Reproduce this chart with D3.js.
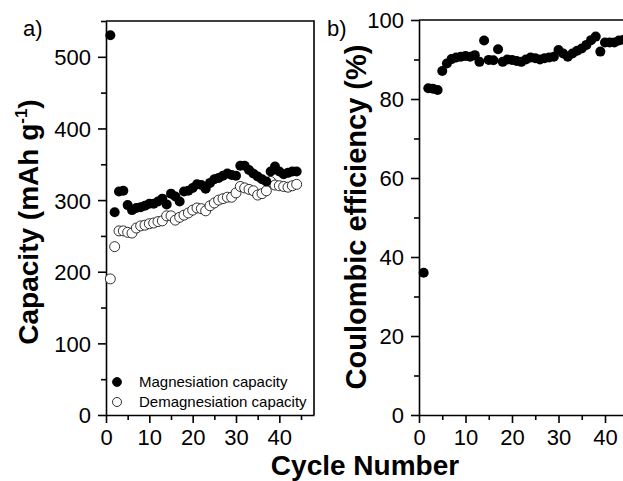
<!DOCTYPE html>
<html>
<head>
<meta charset="utf-8">
<script src="https://cdn.jsdelivr.net/npm/d3@7"></script>
<style>
  body { margin: 0; background: #fff; }
  svg { display: block; font-family: "Liberation Sans", Arial, sans-serif; }
  .axis path, .axis line { stroke: #000; stroke-width: 1.6px; }
  .axis text { font-size: 22px; fill: #000; }
</style>
</head>
<body>
<script>
//---->DATA<-----//
const cycles = d3.range(1, 45);

const magnesiation = [530, 283, 312, 313, 293, 286, 289, 290, 292, 295,
  295, 298, 302, 294, 309, 305, 298, 312, 313, 317,
  322, 321, 316, 324, 329, 331, 334, 337, 335, 334,
  348, 348, 342, 337, 333, 329, 326, 340, 347, 340,
  336, 338, 340, 340];

const demagnesiation = [190, 235, 257, 257, 255, 254, 261, 264, 265, 267,
  268, 270, 271, 278, 278, 272, 276, 279, 282, 286,
  289, 288, 285, 292, 296, 300, 302, 304, 304, 310,
  319, 317, 315, 313, 307, 309, 313, 326, 321, 320,
  319, 318, 320, 322];

const efficiency = [36, 82.7, 82.6, 82.3, 87.1, 89.0, 90.1, 90.5, 90.7, 90.9,
  90.7, 91.1, 89.4, 94.8, 89.9, 89.8, 92.6, 89.4, 90.0, 89.9,
  89.6, 89.4, 90.0, 90.5, 90.3, 90.0, 90.3, 90.5, 90.7, 92.4,
  91.5, 90.7, 91.5, 92.2, 92.8, 93.7, 94.9, 95.8, 92.0, 94.3,
  94.3, 94.3, 94.8, 95.0];

const capTicks = [0, 100, 200, 300, 400, 500];
const effTicks = [0, 20, 40, 60, 80, 100];
const cycleTicks = [0, 10, 20, 30, 40];
const legendLabels = ['Magnesiation capacity', 'Demagnesiation capacity'];

//---->SETUP<-----//
const outerW = 623,
    outerH = 481;

const svg = d3.select('body').append('svg')
    .attr('width', outerW)
    .attr('height', outerH);

const plotTop = 21,
    plotBottom = 415;

// panel a scales
const xa = d3.scaleLinear().domain([0, 48]).range([106, 314]);
const ya = d3.scaleLinear().domain([0, 550]).range([plotBottom, plotTop]);

// panel b scales
const xb = d3.scaleLinear().domain([0, 45]).range([419, 419 + 46.5 * 4.5]);
const yb = d3.scaleLinear().domain([0, 100]).range([plotBottom, plotTop - 1]);

function minorTicks(step, max) {
    return d3.range(step / 2, max + 0.001, step);
}

function drawAxes(g, x, y, yMajor, yMinorStep, yMax, xMax) {
    // minor ticks first
    g.append('g')
        .attr('class', 'axis')
        .attr('transform', 'translate(0,' + plotBottom + ')')
        .call(d3.axisBottom(x).tickValues(minorTicks(10, xMax)).tickSize(5).tickFormat(''))
        .select('.domain').remove();

    g.append('g')
        .attr('class', 'axis')
        .attr('transform', 'translate(' + x(0) + ',0)')
        .call(d3.axisLeft(y).tickValues(minorTicks(yMinorStep, yMax)).tickSize(5).tickFormat(''))
        .select('.domain').remove();

    // major ticks
    g.append('g')
        .attr('class', 'axis')
        .attr('transform', 'translate(0,' + plotBottom + ')')
        .call(d3.axisBottom(x).tickValues(cycleTicks).tickSize(8).tickSizeOuter(0).tickPadding(6));

    g.append('g')
        .attr('class', 'axis')
        .attr('transform', 'translate(' + x(0) + ',0)')
        .call(d3.axisLeft(y).tickValues(yMajor).tickSize(8).tickSizeOuter(0).tickPadding(7))
        .selectAll('text').attr('dy', '0.36em');
}

//---->PANEL A<-----//
const ga = svg.append('g');

drawAxes(ga, xa, ya, capTicks, 100, 550, 45);

// frame top and right
ga.append('path')
    .attr('d', 'M' + xa(0) + ',' + ya(550) + 'H' + xa(48) + 'V' + ya(0))
    .attr('fill', 'none')
    .attr('stroke', '#000')
    .attr('stroke-width', 1.6);

ga.selectAll('.demag')
    .data(cycles)
    .enter().append('circle')
    .attr('class', 'demag')
    .attr('cx', d => xa(d))
    .attr('cy', (d, i) => ya(demagnesiation[i]))
    .attr('r', 5)
    .attr('fill', '#fff')
    .attr('stroke', '#000')
    .attr('stroke-width', 0.8);

ga.selectAll('.mag')
    .data(cycles)
    .enter().append('circle')
    .attr('class', 'mag')
    .attr('cx', d => xa(d))
    .attr('cy', (d, i) => ya(magnesiation[i]))
    .attr('r', 5)
    .attr('fill', '#000');

// legend
const legend = ga.selectAll('.legend')
    .data(legendLabels)
    .enter().append('g')
    .attr('class', 'legend')
    .attr('transform', (d, i) => 'translate(117,' + (382 + i * 20) + ')');

legend.append('circle')
    .attr('r', 4.5)
    .attr('fill', (d, i) => i === 0 ? '#000' : '#fff')
    .attr('stroke', '#000')
    .attr('stroke-width', 0.8);

legend.append('text')
    .attr('x', 22)
    .attr('dy', '0.36em')
    .style('font-size', '15px')
    .text(d => d);

ga.append('text')
    .attr('x', 23)
    .attr('y', 36)
    .style('font-size', '22px')
    .text('a)');

// y title a
const titleA = ga.append('text')
    .attr('transform', 'translate(38,222) rotate(-90)')
    .attr('text-anchor', 'middle')
    .style('font-size', '28px')
    .style('font-weight', 'bold');
titleA.append('tspan').text('Capacity (mAh g');
titleA.append('tspan').attr('dy', -11).style('font-size', '17px').text('-1');
titleA.append('tspan').attr('dy', 11).text(')');

//---->PANEL B<-----//
const gb = svg.append('g');

drawAxes(gb, xb, yb, effTicks, 20, 100, 45);

gb.append('path')
    .attr('d', 'M' + xb(0) + ',' + yb(100) + 'H' + outerW)
    .attr('fill', 'none')
    .attr('stroke', '#000')
    .attr('stroke-width', 1.6);

gb.selectAll('.eff')
    .data(cycles)
    .enter().append('circle')
    .attr('class', 'eff')
    .attr('cx', d => xb(d))
    .attr('cy', (d, i) => yb(efficiency[i]))
    .attr('r', 5)
    .attr('fill', '#000');

gb.append('text')
    .attr('x', 327)
    .attr('y', 36)
    .style('font-size', '22px')
    .text('b)');

gb.append('text')
    .attr('transform', 'translate(366,217) rotate(-90)')
    .attr('text-anchor', 'middle')
    .style('font-size', '29px')
    .style('font-weight', 'bold')
    .text('Coulombic efficiency (%)');

//---->SHARED X TITLE<-----//
svg.append('text')
    .attr('x', 365)
    .attr('y', 475)
    .attr('text-anchor', 'middle')
    .style('font-size', '28px')
    .style('font-weight', 'bold')
    .text('Cycle Number');
</script>
</body>
</html>
